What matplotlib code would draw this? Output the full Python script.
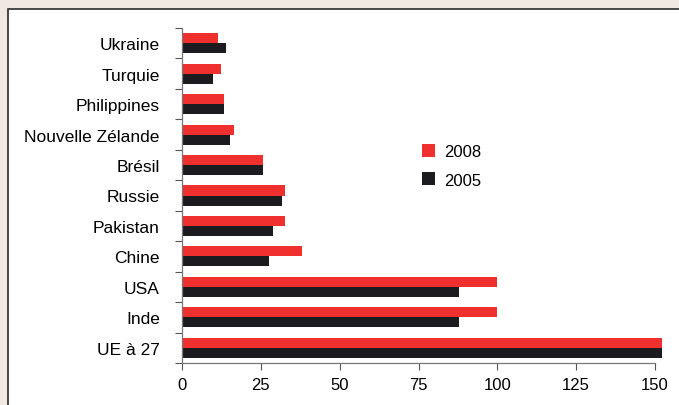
import matplotlib.pyplot as plt
from matplotlib.patches import Rectangle
import numpy as np

plt.rcParams['font.family'] = ['Liberation Sans', 'DejaVu Sans']

# data, bottom to top
pays = ['UE à 27', 'Inde', 'USA', 'Chine', 'Pakistan', 'Russie', 'Brésil',
        'Nouvelle Zélande', 'Philippines', 'Turquie', 'Ukraine']
val_2008 = [152.2, 100, 100, 38, 32.8, 32.8, 25.8, 16.4, 13.4, 12.3, 11.5]
val_2005 = [152.2, 88, 88, 27.7, 28.8, 31.6, 25.6, 15.2, 13.4, 9.9, 14.0]
xticks = [0, 25, 50, 75, 100, 125, 150]

fig = plt.figure(figsize=(6.79, 4.06), dpi=100)
fig.patch.set_facecolor('#efe9e2')
# white panel with dark frame, running off the right/bottom edge
fig.patches.append(Rectangle((8 / 679, -0.1), 1.2, 1 - 10 / 406 + 0.1,
                             transform=fig.transFigure, facecolor='white',
                             edgecolor='#2a2a2a', linewidth=1.2, zorder=-10))

ax = fig.add_axes([182 / 679, 1 - 364 / 406, (655 - 182) / 679, (364 - 29) / 406])
ax.set_facecolor('none')

y = np.arange(len(pays))
h = 0.33
ax.barh(y + h / 2, val_2008, height=h, color='#f0302e', label='2008', clip_on=False)
ax.barh(y - h / 2, val_2005, height=h, color='#1c1c20', label='2005', clip_on=False)

ax.set_xlim(0, 150)
ax.set_ylim(-0.5, len(pays) - 0.5)
ax.set_xticks(xticks)
ax.set_xticklabels([str(t) for t in xticks], fontsize=12)
ax.set_yticks(y)
ax.set_yticklabels(pays, fontsize=12.5)
ax.set_yticks(np.arange(-0.5, len(pays), 1), minor=True)
ax.tick_params(axis='y', which='major', length=0, pad=16)
ax.tick_params(axis='y', which='minor', length=5, width=0.8, color='#555555')
ax.tick_params(axis='x', length=5, width=0.8, color='#555555', pad=5)

for s in ['top', 'right']:
    ax.spines[s].set_visible(False)
for s in ['left', 'bottom']:
    ax.spines[s].set_color('#777777')
    ax.spines[s].set_linewidth(0.9)

ax.legend(loc='upper left', bbox_to_anchor=(407 / 679, 1 - 130 / 406),
          bbox_transform=fig.transFigure, frameon=False, fontsize=12,
          handlelength=0.8, handleheight=0.8, handletextpad=0.5,
          labelspacing=0.8)

fig.savefig('out.png', dpi=100, facecolor=fig.get_facecolor())
